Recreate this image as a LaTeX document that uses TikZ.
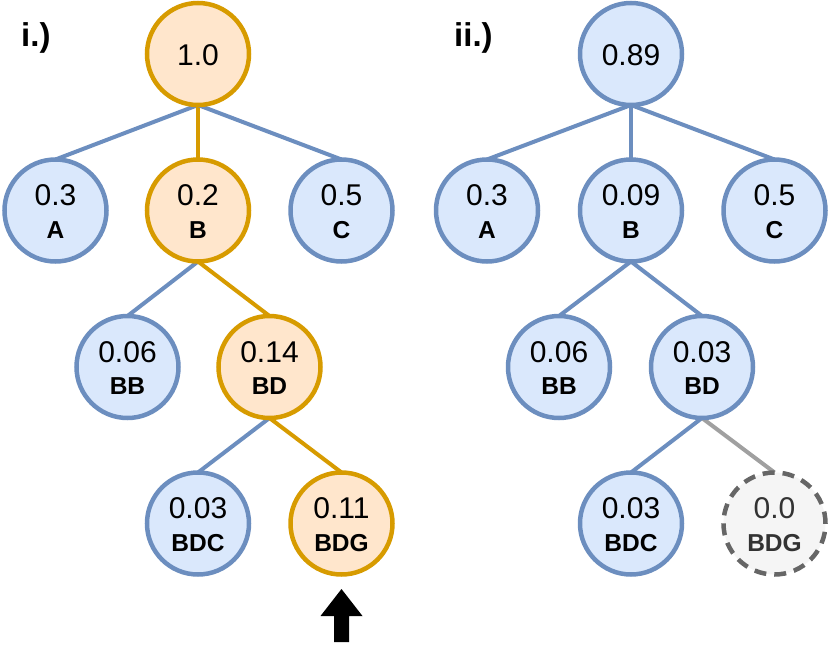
\documentclass[tikz,border=0pt]{standalone}
\usepackage{fontspec}
\setmainfont{Liberation Sans}
\usetikzlibrary{backgrounds}
\definecolor{bfill}{HTML}{DAE8FC}
\definecolor{bline}{HTML}{6C8EBF}
\definecolor{ofill}{HTML}{FFE6CC}
\definecolor{oline}{HTML}{D79B00}
\definecolor{gfill}{HTML}{F5F5F5}
\definecolor{gline}{HTML}{666666}
\definecolor{gtext}{HTML}{333333}
\definecolor{gedge}{HTML}{A0A0A0}
\tikzset{
  tn/.style={circle, minimum size=102pt, inner sep=0pt, outer sep=0pt, line width=4.5pt},
  bluen/.style={tn, draw=bline, fill=bfill},
  orangen/.style={tn, draw=oline, fill=ofill},
  grayn/.style={tn, draw=gline, fill=gfill, dash pattern=on 12pt off 8pt},
  numtxt/.style={font=\fontsize{30}{30}\selectfont, inner sep=0pt, anchor=base},
  labtxt/.style={font=\fontsize{24.5}{24.5}\selectfont\bfseries, inner sep=0pt, anchor=base},
  conn/.style={line width=4pt},
  bconn/.style={conn, draw=bline},
  oconn/.style={conn, draw=oline},
  gconn/.style={conn, draw=gedge},
  panel/.style={font=\fontsize{33}{33}\selectfont\bfseries, inner sep=0pt, anchor=base west},
}
\newcommand\mkcirc[7]{%
  \node[#4] (#1) at (#2,#3) {};
  \node[numtxt, text=#7] (#1-n) at ([yshift=5pt]#1.center) {#5};
  \node[labtxt, text=#7] (#1-l) at ([yshift=-27.5pt]#1.center) {#6};
}
\newcommand\mkroot[5]{%
  \node[#4] (#1) at (#2,#3) {};
  \node[numtxt] (#1-n) at ([yshift=-11pt]#1.center) {#5};
}
\begin{document}
\begin{tikzpicture}[x=1pt,y=-1pt]
\useasboundingbox (0,0) rectangle (830,645);
% left tree
\mkroot{r1}{198}{54}{orangen}{1.0}
\mkcirc{a1}{55.5}{210.5}{bluen}{0.3}{A}{black}
\mkcirc{b1}{198}{210.5}{orangen}{0.2}{B}{black}
\mkcirc{c1}{341.5}{210.5}{bluen}{0.5}{C}{black}
\mkcirc{bb1}{127.5}{367}{bluen}{0.06}{BB}{black}
\mkcirc{bd1}{269.5}{367}{orangen}{0.14}{BD}{black}
\mkcirc{bdc1}{198}{523.5}{bluen}{0.03}{BDC}{black}
\mkcirc{bdg1}{341.5}{523.5}{orangen}{0.11}{BDG}{black}
% right tree
\mkroot{r2}{631}{54}{bluen}{0.89}
\mkcirc{a2}{487}{210.5}{bluen}{0.3}{A}{black}
\mkcirc{b2}{631}{210.5}{bluen}{0.09}{B}{black}
\mkcirc{c2}{774.5}{210.5}{bluen}{0.5}{C}{black}
\mkcirc{bb2}{559}{367}{bluen}{0.06}{BB}{black}
\mkcirc{bd2}{702}{367}{bluen}{0.03}{BD}{black}
\mkcirc{bdc2}{631}{523.5}{bluen}{0.03}{BDC}{black}
\mkcirc{bdg2}{774.5}{523.5}{grayn}{0.0}{BDG}{gtext}
\begin{pgfonlayer}{background}
  \draw[bconn] (r1.south) -- (a1.north);
  \draw[oconn] (r1.south) -- (b1.north);
  \draw[bconn] (r1.south) -- (c1.north);
  \draw[bconn] (b1.south) -- (bb1.north);
  \draw[oconn] (b1.south) -- (bd1.north);
  \draw[bconn] (bd1.south) -- (bdc1.north);
  \draw[oconn] (bd1.south) -- (bdg1.north);
  \draw[bconn] (r2.south) -- (a2.north);
  \draw[bconn] (r2.south) -- (b2.north);
  \draw[bconn] (r2.south) -- (c2.north);
  \draw[bconn] (b2.south) -- (bb2.north);
  \draw[bconn] (b2.south) -- (bd2.north);
  \draw[bconn] (bd2.south) -- (bdc2.north);
  \draw[gconn] (bd2.south) -- (bdg2.north);
\end{pgfonlayer}
% panel labels
\node[panel] (p1) at (21,46) {i.)};
\node[panel] (p2) at (454,46) {ii.)};
% arrow
\fill[black] (341.5,589) -- (362.5,616) -- (349,616) -- (349,642) -- (334,642) -- (334,616) -- (320.5,616) -- cycle;
\end{tikzpicture}
\end{document}
